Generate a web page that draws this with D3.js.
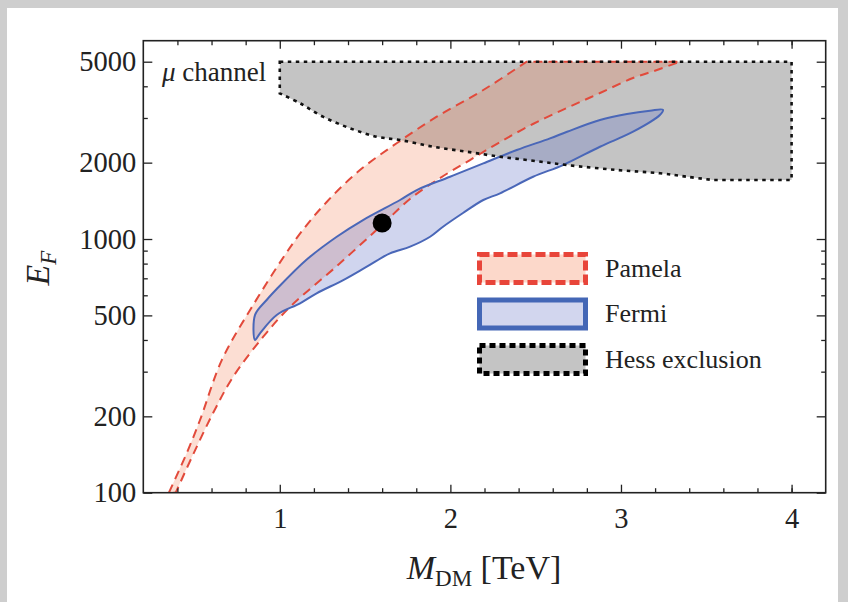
<!DOCTYPE html>
<html><head><meta charset="utf-8">
<script src="https://cdn.jsdelivr.net/npm/d3@7"></script>
<style>
html,body{margin:0;padding:0;background:#cecece;}
svg{display:block;}
text{font-family:"Liberation Serif","DejaVu Serif",serif;fill:#222;}
</style></head>
<body>
<svg id="chart" width="848" height="602"></svg>
<script>
// ---- data (M_DM in TeV, E_F) ----
const pamelaUpper = [[0.35,100],[0.454,143],[0.532,193],[0.66,333],[0.826,525],[1.10,1010],[1.275,1400],[1.47,1870],[1.685,2385],[1.92,3035],[2.193,3867],[2.447,5000]];
const pamelaLower = [[3.346,5000],[3.211,4637],[3.07,4312],[2.877,3763],[2.683,3284],[2.484,2840],[2.291,2412],[2.115,2048],[1.939,1739],[1.763,1438],[1.605,1146],[1.335,783],[1.06,540],[0.902,411],[0.726,286],[0.609,206],[0.491,141],[0.39,100]];
const fermiBoundary = [[0.855,400],[0.855,502],[0.923,575],[0.982,635],[1.158,830],[1.334,1021],[1.488,1188],[1.705,1425],[1.803,1560],[1.998,1760],[2.193,1988],[2.389,2243],[2.584,2494],[2.684,2648],[2.877,2945],[3.035,3110],[3.17,3204],[3.246,3230],[3.228,3082],[3.071,2648],[2.877,2311],[2.66,1957],[2.485,1760],[2.291,1514],[2.193,1425],[2.074,1266],[1.957,1118],[1.881,1021],[1.764,933],[1.646,878],[1.51,778],[1.372,689],[1.216,611],[1.119,558],[0.982,502],[0.884,425]];
const hessBoundary = [[1.0,5000],[4.0,5000],[4.0,1708],[3.54,1708],[3.387,1760],[3.229,1816],[2.977,1871],[2.684,1957],[2.485,2035],[2.291,2110],[2.096,2209],[1.898,2311],[1.705,2456],[1.568,2531],[1.413,2731],[1.253,3035],[1.119,3427],[1.0,3753]];
const benchmark = [[1.6,1156]];
const xMajor = [1,2,3,4];
const xMinor = [0.4,0.6,0.8,1.2,1.4,1.6,1.8,2.2,2.4,2.6,2.8,3.2,3.4,3.6,3.8,4.0];
const yMajor = [100,200,500,1000,2000,5000];
const yMinor = [300,400,600,700,800,900,3000,4000];
const legendLabels = ["Pamela","Fermi","Hess exclusion"];

// ---- layout ----
const svg = d3.select("#chart");
svg.append("rect").attr("x",7).attr("y",8).attr("width",831).attr("height",600).attr("fill","#fff");
const L=143.3, R=825.7, T=40.7, B=492.7;
const x = d3.scaleLinear().domain([0.2,4.2]).range([L,R]);
const y = d3.scaleLog().domain([100,6050]).range([B,T]);

svg.append("clipPath").attr("id","clip").append("rect").attr("x",L).attr("y",T).attr("width",R-L).attr("height",B-T);
const plot = svg.append("g").attr("clip-path","url(#clip)");

const lin = d3.line().x(d=>x(d[0])).y(d=>y(d[1]));
const smooth = d3.line().x(d=>x(d[0])).y(d=>y(d[1])).curve(d3.curveCatmullRom.alpha(0.5));

const pamelaPath = smooth(pamelaUpper) + smooth(pamelaLower).replace(/^M/,"L") + "Z";
const fermiPath = d3.line().x(d=>x(d[0])).y(d=>y(d[1])).curve(d3.curveCatmullRomClosed.alpha(0.5))(fermiBoundary);
const hessPath = lin(hessBoundary.slice(0,4)) + smooth(hessBoundary.slice(3)).replace(/^M/,"L") + "Z";

const pamFill="rgba(242,100,45,0.21)", pamStroke="#e24a3b";
const ferFill="rgba(98,115,198,0.3)", ferStroke="#4a67b8";
const hesFill="#c4c4c4", hesStroke="#111";

plot.append("path").attr("d",hessPath).attr("fill",hesFill);
plot.append("path").attr("d",pamelaPath).attr("fill",pamFill);
plot.append("path").attr("d",fermiPath).attr("fill",ferFill);
plot.append("path").attr("d",pamelaPath).attr("fill","none").attr("stroke",pamStroke).attr("stroke-width",2).attr("stroke-dasharray","9,6");
plot.append("path").attr("d",fermiPath).attr("fill","none").attr("stroke",ferStroke).attr("stroke-width",2).attr("stroke-linejoin","round");
plot.append("path").attr("d",hessPath).attr("fill","none").attr("stroke",hesStroke).attr("stroke-width",2.6).attr("stroke-dasharray","3.5,4.5");

plot.selectAll("circle.bm").data(benchmark).join("circle").attr("class","bm")
  .attr("cx",d=>x(d[0])).attr("cy",d=>y(d[1])).attr("r",9.5).attr("fill","#000");

// ---- axes ----
function styleAxis(g){ g.select(".domain").remove(); g.selectAll("line").attr("stroke","#222").attr("stroke-width",1.3); g.selectAll("text").style("font-size","28.5px").attr("fill","#222"); }
svg.append("g").attr("transform",`translate(0,${B})`).call(d3.axisBottom(x).tickValues(xMajor).tickSize(-8).tickPadding(15).tickFormat(d3.format("d"))).call(styleAxis);
svg.append("g").attr("transform",`translate(0,${B})`).call(d3.axisBottom(x).tickValues(xMinor).tickSize(-4.5).tickFormat("")).call(styleAxis);
svg.append("g").attr("transform",`translate(0,${T})`).call(d3.axisTop(x).tickValues(xMajor).tickSize(-8).tickFormat("")).call(styleAxis);
svg.append("g").attr("transform",`translate(0,${T})`).call(d3.axisTop(x).tickValues(xMinor).tickSize(-4.5).tickFormat("")).call(styleAxis);
svg.append("g").attr("transform",`translate(${L},0)`).call(d3.axisLeft(y).tickValues(yMajor).tickSize(-9).tickPadding(7).tickFormat(d3.format("d"))).call(styleAxis);
svg.append("g").attr("transform",`translate(${L},0)`).call(d3.axisLeft(y).tickValues(yMinor).tickSize(-4.5).tickFormat("")).call(styleAxis);
svg.append("g").attr("transform",`translate(${R},0)`).call(d3.axisRight(y).tickValues(yMajor).tickSize(-9).tickFormat("")).call(styleAxis);
svg.append("g").attr("transform",`translate(${R},0)`).call(d3.axisRight(y).tickValues(yMinor).tickSize(-4.5).tickFormat("")).call(styleAxis);
svg.append("rect").attr("x",L).attr("y",T).attr("width",R-L).attr("height",B-T).attr("fill","none").attr("stroke","#222").attr("stroke-width",1.6);

// ---- labels ----
const xl = svg.append("text").attr("x",484).attr("y",579).attr("text-anchor","middle").style("font-size","34px");
xl.append("tspan").attr("font-style","italic").text("M");
xl.append("tspan").attr("dy",7).style("font-size","23px").text("DM");
xl.append("tspan").attr("dy",-7).text(" [TeV]");
const yl = svg.append("text").attr("transform","translate(49,268) rotate(-90)").attr("text-anchor","middle").style("font-size","34px");
yl.append("tspan").attr("font-style","italic").text("E");
yl.append("tspan").attr("dy",7).attr("font-style","italic").style("font-size","23px").text("F");
const ch = svg.append("text").attr("x",162).attr("y",81).style("font-size","27px");
ch.append("tspan").attr("font-style","italic").text("\u03bc");
ch.append("tspan").text(" channel");

// ---- legend ----
const legStyles = [
  {fill:"#fcd8ca",stroke:"#e8453a",dash:"10,4",w:5},
  {fill:"#d2d6ee",stroke:"#4467b6",dash:null,w:5},
  {fill:"#c4c4c4",stroke:"#000",dash:"6,4",w:5}
];
const leg = svg.append("g");
legendLabels.forEach((lab,i)=>{
  const yy = 254.5 + i*45.5;
  const r = leg.append("rect").attr("x",479.5).attr("y",yy).attr("width",106).attr("height",28)
    .attr("fill",legStyles[i].fill).attr("stroke",legStyles[i].stroke).attr("stroke-width",legStyles[i].w);
  if(legStyles[i].dash) r.attr("stroke-dasharray",legStyles[i].dash);
  leg.append("text").attr("x",605).attr("y",yy+22).style("font-size","26px").text(lab);
});
</script>
</body></html>
